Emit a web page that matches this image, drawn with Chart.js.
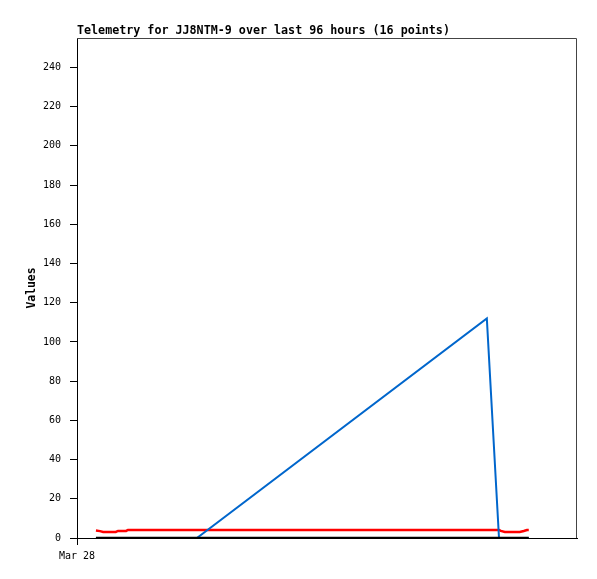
<!DOCTYPE html>
<html>
<head>
<meta charset="utf-8">
<script src="https://cdn.jsdelivr.net/npm/chart.js@4/dist/chart.umd.min.js"></script>
<style>
  html, body { margin: 0; padding: 0; background: #fff; }
  canvas { display: block; }
</style>
</head>
<body>
<canvas id="myChart" width="597" height="579"></canvas>
<script>
// hours since Mar 28 00:00
const hours = [4.2, 5.1, 5.8, 8.6, 9.1, 10.9, 11.3, 26.6, 90.9, 93.6, 94.0, 94.9, 98.2, 99.1, 99.8, 100.2];
const seriesRed = [3.8, 3.5, 3.1, 3.1, 3.6, 3.6, 4.1, 4.1, 4.1, 4.1, 3.6, 3.1, 3.1, 3.6, 4.1, 4.1];
const seriesBlue = [0, 0, 0, 0, 0, 0, 0, 0, 112, 0, 0, 0, 0, 0, 0, 0];
const seriesBlack = [0, 0, 0, 0, 0, 0, 0, 0, 0, 0, 0, 0, 0, 0, 0, 0];
const yTicks = [0, 20, 40, 60, 80, 100, 120, 140, 160, 180, 200, 220, 240];
const xTickValues = [0];
const xTickLabels = ['Mar 28'];
const titleText = 'Telemetry for JJ8NTM-9 over last 96 hours (16 points)';

function pts(vals) {
  return vals.map((v, i) => ({ x: hours[i], y: v }));
}

const frame = {
  id: 'frame',
  afterDraw(chart) {
    const { ctx, chartArea: a } = chart;
    ctx.save();
    ctx.strokeStyle = '#444';
    ctx.lineWidth = 1;
    ctx.beginPath();
    ctx.moveTo(a.left, a.top + 0.5);
    ctx.lineTo(a.right - 0.5, a.top + 0.5);
    ctx.lineTo(a.right - 0.5, a.bottom);
    ctx.stroke();
    ctx.fillStyle = '#000';
    ctx.font = 'bold 11.7px "DejaVu Sans Mono"';
    ctx.textBaseline = 'alphabetic';
    ctx.textAlign = 'left';
    ctx.fillText(titleText, a.left, 34);
    ctx.restore();
  }
};

const ctx = document.getElementById('myChart').getContext('2d');
const myChart = new Chart(ctx, {
  type: 'line',
  data: {
    datasets: [
      { data: pts(seriesBlack), borderColor: '#000000', borderWidth: 2.5 },
      { data: pts(seriesBlue), borderColor: '#0066cc', borderWidth: 2 },
      { data: pts(seriesRed), borderColor: '#ff0000', borderWidth: 2.5 }
    ]
  },
  options: {
    responsive: false,
    animation: false,
    elements: { point: { radius: 0 }, line: { tension: 0 } },
    layout: { padding: { left: 0, top: 38, right: 20, bottom: 0 } },
    plugins: { legend: { display: false }, tooltip: { enabled: false } },
    scales: {
      x: {
        type: 'linear',
        min: 0,
        max: 110.9,
        afterFit: s => { s.height = 41; },
        afterBuildTicks: s => { s.ticks = xTickValues.map(v => ({ value: v })); },
        ticks: {
          color: '#000',
          font: { family: 'DejaVu Sans Mono', size: 10 },
          padding: 5,
          maxRotation: 0,
          callback: (v, i) => xTickLabels[i]
        },
        grid: { drawOnChartArea: false, tickLength: 7, color: '#000' },
        border: { color: '#000', width: 1 }
      },
      y: {
        min: 0,
        max: 255,
        afterFit: s => { s.width = 77; },
        afterBuildTicks: s => { s.ticks = yTicks.map(v => ({ value: v })); },
        ticks: {
          color: '#000',
          font: { family: 'DejaVu Sans Mono', size: 10 },
          padding: 9
        },
        grid: { drawOnChartArea: false, tickLength: 7, color: '#000' },
        border: { color: '#000', width: 1 },
        title: {
          display: true,
          text: 'Values',
          color: '#000',
          font: { family: 'DejaVu Sans Mono', size: 11.4, weight: 'bold' },
          padding: { top: 25, bottom: 0 }
        }
      }
    }
  },
  plugins: [frame]
});
</script>
</body>
</html>
